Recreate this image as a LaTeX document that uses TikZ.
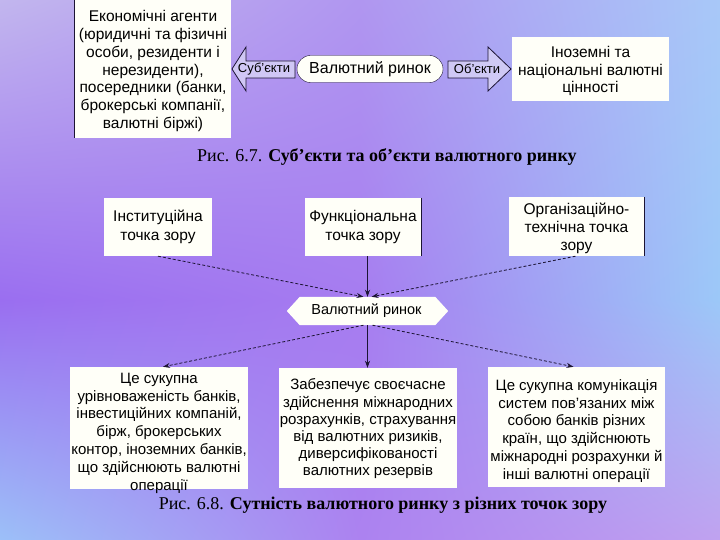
\documentclass[tikz,border=0pt]{standalone}
\usepackage{fontspec}
\setmainfont{Liberation Sans}
\newfontfamily\capfont{Liberation Serif}
\usetikzlibrary{arrows.meta,shadings}
\definecolor{bgTL}{HTML}{C2B6EE}
\definecolor{bgTM}{HTML}{B096F0}
\definecolor{bgTR}{HTML}{A8C8F8}
\definecolor{bgML}{HTML}{9A6EF0}
\definecolor{bgMM}{HTML}{A67CF0}
\definecolor{bgMR}{HTML}{9CC8F8}
\definecolor{bgBL}{HTML}{9CC0F8}
\definecolor{bgBM}{HTML}{AC82F0}
\definecolor{bgBR}{HTML}{C0A2F0}
\definecolor{boxfill}{HTML}{FFFFF8}
\definecolor{ink}{HTML}{1C1434}
\definecolor{arrowfill}{HTML}{D6D0F6}
\tikzset{
  box/.style={fill=boxfill, inner sep=0pt},
  txt/.style={inner sep=0pt, align=center, font=\fontsize{15}{17.8}\selectfont},
  bigtxt/.style={txt, font=\fontsize{15.5}{17.8}\selectfont},
  viewtxt/.style={txt, font=\fontsize{15.5}{19}\selectfont},
  conn/.style={ink, line width=0.8pt, -{Stealth[length=7pt,width=5pt]}},
  dconn/.style={conn, dash pattern=on 3pt off 2pt},
  edge/.style={ink, line width=1pt},
  capt/.style={font=\capfont\fontsize{18}{21}\selectfont, inner sep=0pt}
}
\begin{document}
\begin{tikzpicture}[x=1pt,y=-1pt]
\useasboundingbox (0,0) rectangle (720,540);
% background
\shade[upper left=bgTL, upper right=bgTM, lower left=bgML, lower right=bgMM] (0,0) rectangle (360.5,300.5);
\shade[upper left=bgTM, upper right=bgTR, lower left=bgMM, lower right=bgMR] (360,0) rectangle (720,300.5);
\shade[upper left=bgML, upper right=bgMM, lower left=bgBL, lower right=bgBM] (0,300) rectangle (360.5,540);
\shade[upper left=bgMM, upper right=bgMR, lower left=bgBM, lower right=bgBR] (360,300) rectangle (720,540);

% ---- Figure 6.7
\node[box, minimum width=156, minimum height=140] (eco) at (153,68) {};
\node[bigtxt] (ecot) at ([yshift=-3]eco.center) {Економічні агенти\\(юридичні та фізичні\\особи, резиденти і\\нерезиденти),\\посередники (банки,\\брокерські компанії,\\валютні біржі)};
\draw[edge] (eco.north west) -- (eco.south west);

\node[box, minimum width=157, minimum height=64] (obj) at (590.5,69) {};
\node[bigtxt] (objt) at ([yshift=-2]obj.center) {Іноземні та\\національні валютні\\цінності};

\node[draw=ink, fill=boxfill, rounded corners=13.5pt, minimum width=146, minimum height=27, inner sep=0pt, font=\fontsize{16}{18}\selectfont] (vr) at (370,69) {Валютний ринок};

\draw[ink, line width=0.8pt, fill=arrowfill, fill opacity=0.85] (232,69) -- (246,47) -- (246,61) -- (295,61) -- (295,78) -- (246,78) -- (246,91) -- cycle;
\node[inner sep=0pt, font=\fontsize{13}{15}\selectfont] (subj) at (264,69) {Суб'єкти};
\draw[ink, line width=0.8pt, fill=arrowfill, fill opacity=0.85] (448,61) -- (488,61) -- (488,47) -- (511,69) -- (488,91) -- (488,78) -- (448,78) -- cycle;
\node[inner sep=0pt, font=\fontsize{13}{15}\selectfont] (objl) at (477,69) {Об'єкти};

\node[capt] (cap1) at (387,157) {Рис. 6.7. \textbf{Суб’єкти та об’єкти валютного ринку}};

% ---- Figure 6.8
\node[box, minimum width=108, minimum height=58] (inst) at (158,227) {};
\node[viewtxt] (instt) at (inst.center) {Інституційна\\точка зору};
\node[box, minimum width=116, minimum height=58] (func) at (363,227) {};
\node[viewtxt] (funct) at (func.center) {Функціональна\\точка зору};
\draw[edge] (func.north east) -- (func.south east);
\node[box, minimum width=135, minimum height=59] (org) at (576.5,226.5) {};
\node[txt, font=\fontsize{15.5}{18}\selectfont] (orgt) at ([yshift=-1.5]org.center) {Організаційно-\\технічна точка\\зору};
\draw[edge] (org.north east) -- (org.south east);

\node[minimum width=161, minimum height=28, inner sep=0pt] (mkt) at (367.5,311) {};
\fill[boxfill] (mkt.west) -- ([xshift=13]mkt.north west) -- ([xshift=-13]mkt.north east) -- (mkt.east) -- ([xshift=-13]mkt.south east) -- ([xshift=13]mkt.south west) -- cycle;
\node[inner sep=0pt, font=\fontsize{14.5}{16}\selectfont] (mktl) at ([xshift=-1]mkt.center) {Валютний ринок};

\coordinate (topin) at (mkt.north);
\draw[dconn] (inst.south) -- ([xshift=-4]topin);
\draw[conn] (topin |- func.south) -- (topin);
\draw[dconn] ([xshift=-1]org.south) -- ([xshift=4]topin);

\node[box, minimum width=178, minimum height=122] (b1) at (159,428) {};
\node[txt] (b1t) at ([yshift=-5]b1.center) {Це сукупна\\урівноваженість банків,\\інвестиційних компаній,\\бірж, брокерських\\контор, іноземних банків,\\що здійснюють валютні\\операції};
\node[box, minimum width=178, minimum height=120] (b2) at (368,428) {};
\node[txt, font=\fontsize{15}{17.2}\selectfont] (b2t) at ([yshift=-1]b2.center) {Забезпечує своєчасне\\здійснення міжнародних\\розрахунків, страхування\\від валютних ризиків,\\диверсифікованості\\валютних резервів};
\node[box, minimum width=177, minimum height=120] (b3) at (576.5,427) {};
\node[txt] (b3t) at ([yshift=-4]b3.center) {Це сукупна комунікація\\систем пов'язаних між\\собою банків різних\\країн, що здійснюють\\міжнародні розрахунки й\\інші валютні операції};

\draw[dconn] ([xshift=-4]mkt.south) -- ([xshift=4]b1.north);
\draw[conn] (mkt.south) -- (mkt.south |- b2.north);
\draw[dconn] ([xshift=5]mkt.south) -- ([xshift=-3]b3.north);

\node[capt] (cap2) at (383,505) {Рис. 6.8. \textbf{Сутність валютного ринку з різних точок зору}};
\end{tikzpicture}
\end{document}
